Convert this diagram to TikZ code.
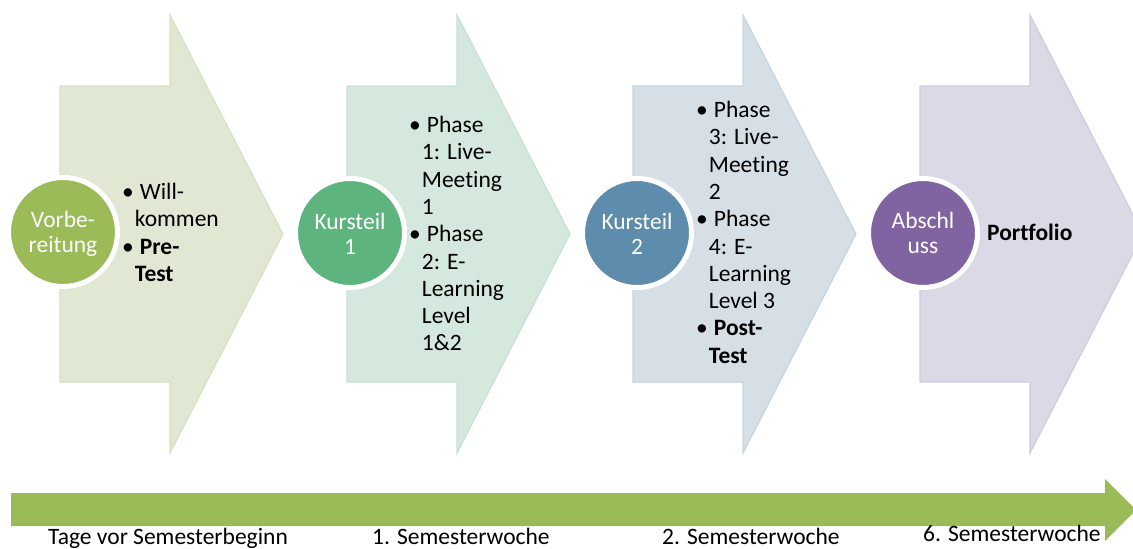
\documentclass[tikz,border=0pt]{standalone}
\usepackage{fontspec}
\setmainfont{Carlito}[Ligatures={NoCommon,NoContextual}]
\definecolor{cA}{HTML}{9BBB59}
\definecolor{cB}{HTML}{5DB47F}
\definecolor{cC}{HTML}{5D8CAD}
\definecolor{cD}{HTML}{8064A2}
\definecolor{fA}{HTML}{E0E8D3}
\definecolor{fB}{HTML}{D5E8DD}
\definecolor{fC}{HTML}{D6DFE6}
\definecolor{fD}{HTML}{DCD9E7}
\newcommand\chevpath[1]{(#1,86) -- (#1+110,86) -- (#1+110,15) -- (#1+223,234) -- (#1+110,453) -- (#1+110,382) -- (#1,382) -- cycle}
\newcommand\bl[1]{\begin{tabular}[t]{@{}l@{\hspace{1pt}}l@{}}#1\end{tabular}}
\newcommand\cl[1]{\begin{tabular}[t]{@{}c@{}}#1\end{tabular}}
\newcommand\meet{Meet\kern0pt ing}
\begin{document}
\begin{tikzpicture}[x=1pt,y=-1pt,
  stage/.style={line width=1.2pt},
  ball/.style={circle,draw=white,line width=5pt,minimum size=109pt,inner sep=0pt},
  blk/.style={anchor=base west,inner sep=0pt,font=\fontsize{23.5}{27.3}\selectfont,text=black},
  clab/.style={anchor=base,inner sep=0pt,font=\fontsize{23.5}{25.5}\selectfont,text=white},
  tl/.style={anchor=base west,inner sep=0pt,font=\fontsize{23.5}{27}\selectfont,text=black}]
\useasboundingbox (0,0) rectangle (1133,549);
\clip (0,0) rectangle (1133,549);
% stage arrows
\fill[stage,fill=fA,draw=cA!14!fA] \chevpath{60};
\fill[stage,fill=fB,draw=cB!12!fB] \chevpath{347};
\fill[stage,fill=fC,draw=cC!12!fC] \chevpath{633};
\fill[stage,fill=fD,draw=cD!12!fD] \chevpath{920};
% circles
\node[ball,fill=cA] (c1) at (63,232) {};
\node[ball,fill=cB] (c2) at (350,233) {};
\node[ball,fill=cC] (c3) at (637,233) {};
\node[ball,fill=cD] (c4) at (923,233) {};
\node[clab] (l1) at (c1.center |- 0,227) {\cl{Vorbe-\\reitung}};
\node[clab] (l2) at (c2.center |- 0,229) {\cl{Kursteil\\1}};
\node[clab] (l3) at (c3.center |- 0,229) {\cl{Kursteil\\2}};
\node[clab] (l4) at (c4.center |- 0,228) {\cl{Abschl\\uss}};
% texts
\node[blk] (t1) at (122,199.5) {\bl{\textbullet & \hspace{5pt}Will-\\ & kommen\\ \textbullet & \hspace{5pt}\textbf{Pre-}\\ & \textbf{Test}}};
\node[blk] (t2) at (409,132.5) {\bl{\textbullet & \hspace{5pt}Phase\\ & 1: Live-\\ & \meet\\ & 1\\ \textbullet & \hspace{5pt}Phase\\ & 2: E-\\ & Learning\\ & Level\\ & 1\&2}};
\node[blk] (t3) at (696,117.5) {\bl{\textbullet & \hspace{5pt}Phase\\ & 3: Live-\\ & \meet\\ & 2\\ \textbullet & \hspace{5pt}Phase\\ & 4: E-\\ & Learning\\ & Level 3\\ \textbullet & \hspace{5pt}\textbf{Post-}\\ & \textbf{Test}}};
\node[blk] (t4) at (987,240.5) {\textbf{Port\kern0pt folio}};
% timeline
\fill[cA] (11,493) -- (1105,493) -- (1105,479) -- (1136,510) -- (1105,541) -- (1105,526) -- (11,526) -- cycle;
\node[tl] (b1) at (48,544) {Tage vor Semesterbeginn};
\node[tl] (b2) at (372,544) {1. Semesterwoche};
\node[tl] (b3) at (662,544) {2. Semesterwoche};
\node[tl,fill=white,inner xsep=2pt,text height=14pt,text depth=9pt] (b4) at (921,541) {6. Semesterwoche};
\end{tikzpicture}
\end{document}
